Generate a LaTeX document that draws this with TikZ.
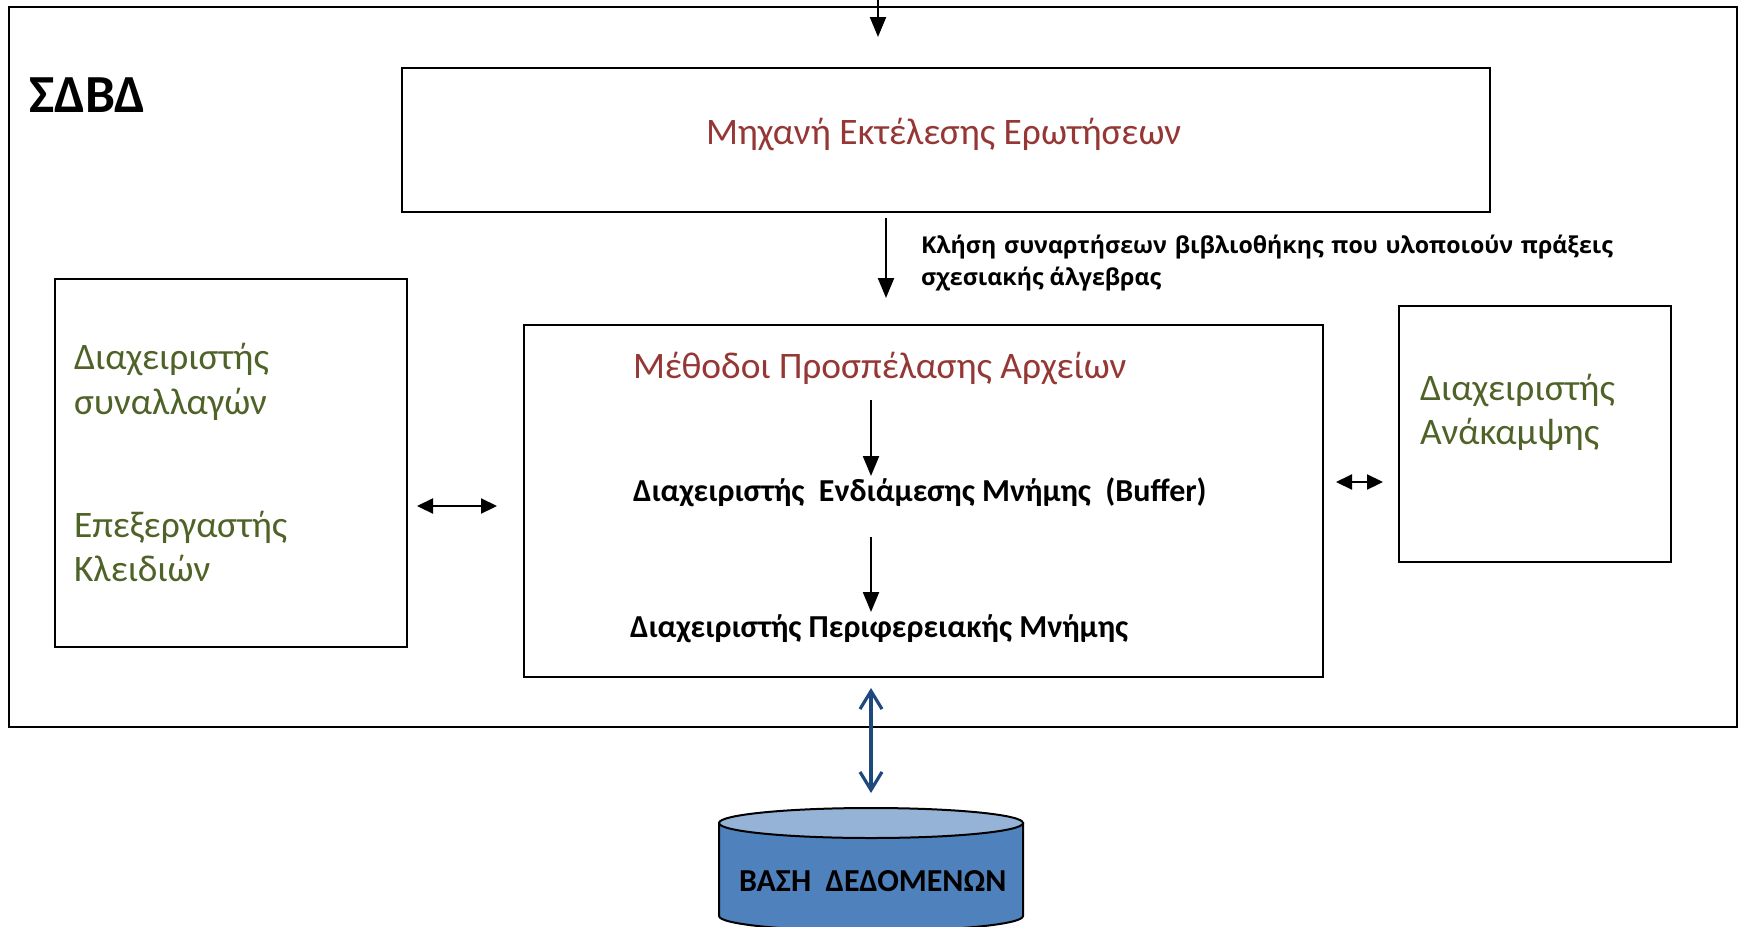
\documentclass[tikz,border=0pt]{standalone}
\usepackage{fontspec}
\setmainfont{Carlito}
\newfontfamily\labelfont{Open Sans}
\usetikzlibrary{arrows.meta}
\definecolor{redtxt}{HTML}{953735}
\definecolor{greentxt}{HTML}{4F6228}
\definecolor{bluearrow}{HTML}{1F497D}
\definecolor{cylside}{HTML}{4F81BD}
\definecolor{cyltop}{HTML}{95B3D7}
\tikzset{
  px/.style={x=0.5pt,y=-0.5pt},
  boxnode/.style={draw=black,line width=1pt,fill=none,inner sep=0pt,outer sep=0pt},
  txt/.style={inner sep=0pt,outer sep=0pt,anchor=base west},
  redlabel/.style={txt,text=redtxt,font=\fontsize{18.7}{22}\selectfont},
  greenlabel/.style={txt,text=greentxt,font=\fontsize{18.7}{22}\selectfont},
  boldlabel/.style={txt,text=black,font=\fontsize{16}{19}\selectfont\bfseries},
  flow/.style={draw=black,line width=1.1pt,-{Triangle[length=10pt,width=8pt]}},
  bothway/.style={draw=black,line width=1.1pt,{Triangle[length=8pt,width=7.5pt]}-{Triangle[length=8pt,width=7.5pt]}},
  dbarrow/.style={draw=bluearrow,line width=1.6pt,{Straight Barb[length=9pt,width=11pt,line width=1.6pt]}-{Straight Barb[length=9pt,width=11pt,line width=1.6pt]}},
}
\begin{document}
\begin{tikzpicture}[px]
\useasboundingbox (0,0) rectangle (1739,926);
\clip (0,0) rectangle (1739,926);
% boxes
\node[boxnode,minimum width=864pt,minimum height=360pt,anchor=north west] (sdbd) at (9,7) {};
\node[boxnode,minimum width=544pt,minimum height=72pt,anchor=north west] (engine) at (402,68) {};
\node[boxnode,minimum width=176pt,minimum height=184pt,anchor=north west] (txn) at (55,279) {};
\node[boxnode,minimum width=399.75pt,minimum height=176pt,anchor=north west] (access) at (523.5,325) {};
\node[boxnode,minimum width=136pt,minimum height=128pt,anchor=north west] (recovery) at (1399,306) {};
% cylinder
\fill[cylside,draw=black,line width=1pt] (719,823) -- (719,916) arc[start angle=180,end angle=0,x radius=152,y radius=15] -- (1023,823) -- cycle;
\draw[fill=cyltop,draw=black,line width=1pt] (871,823) ellipse[x radius=152,y radius=15];
% text
\node[txt,font=\fontsize{26.8}{30}\selectfont\bfseries] (title) at (29,112) {ΣΔΒΔ};
\node[redlabel] (enginetxt) at (706,144) {Μηχανή Εκτέλεσης Ερωτήσεων};
\node[redlabel] (accesstxt) at (633,378) {Μέθοδοι Προσπέλασης Αρχείων};
\node[boldlabel] (buffer) at (633,501) {Διαχειριστής\ \ Ενδιάμεσης Μνήμης\ \ (Buffer)};
\node[boldlabel] (disk) at (630,637) {Διαχειριστής Περιφερειακής Μνήμης};
\node[greenlabel] (t1) at (74,369) {Διαχειριστής};
\node[greenlabel] (t2) at (74,414) {συναλλαγών};
\node[greenlabel] (t3) at (74,537) {Επεξεργαστής};
\node[greenlabel] (t4) at (74,581) {Κλειδιών};
\node[greenlabel] (r1) at (1420,400) {Διαχειριστής};
\node[greenlabel] (r2) at (1420,444) {Ανάκαμψης};
\node[txt,font=\labelfont\fontsize{11.6}{16}\selectfont\bfseries,text width=346pt,align=justify,anchor=north west] (call) at (921,235.5) {Κλήση συναρτήσεων βιβλιοθήκης που υλοποιούν πράξεις σχεσιακής άλγεβρας};
\node[boldlabel] (db) at (739,891) {ΒΑΣΗ\ \ ΔΕΔΟΜΕΝΩΝ};
% arrow ends
\coordinate (c1a) at (878,0);   \coordinate (c1b) at (878,37);
\coordinate (c2a) at (886,218); \coordinate (c2b) at (886,298);
\coordinate (c3a) at (871,400); \coordinate (c3b) at (871,476);
\coordinate (c4a) at (871,537); \coordinate (c4b) at (871,612);
\coordinate (c5a) at (417,506); \coordinate (c5b) at (497,506);
\coordinate (c6a) at (1336,482);\coordinate (c6b) at (1383,482);
\coordinate (c7a) at (871,688); \coordinate (c7b) at (871,793);
\draw[flow] (c1a) -- (c1b);
\draw[flow] (c2a) -- (c2b);
\draw[flow] (c3a) -- (c3b);
\draw[flow] (c4a) -- (c4b);
\draw[bothway] (c5a) -- (c5b);
\draw[bothway] (c6a) -- (c6b);
\draw[dbarrow] (c7a) -- (c7b);
\end{tikzpicture}
\end{document}
